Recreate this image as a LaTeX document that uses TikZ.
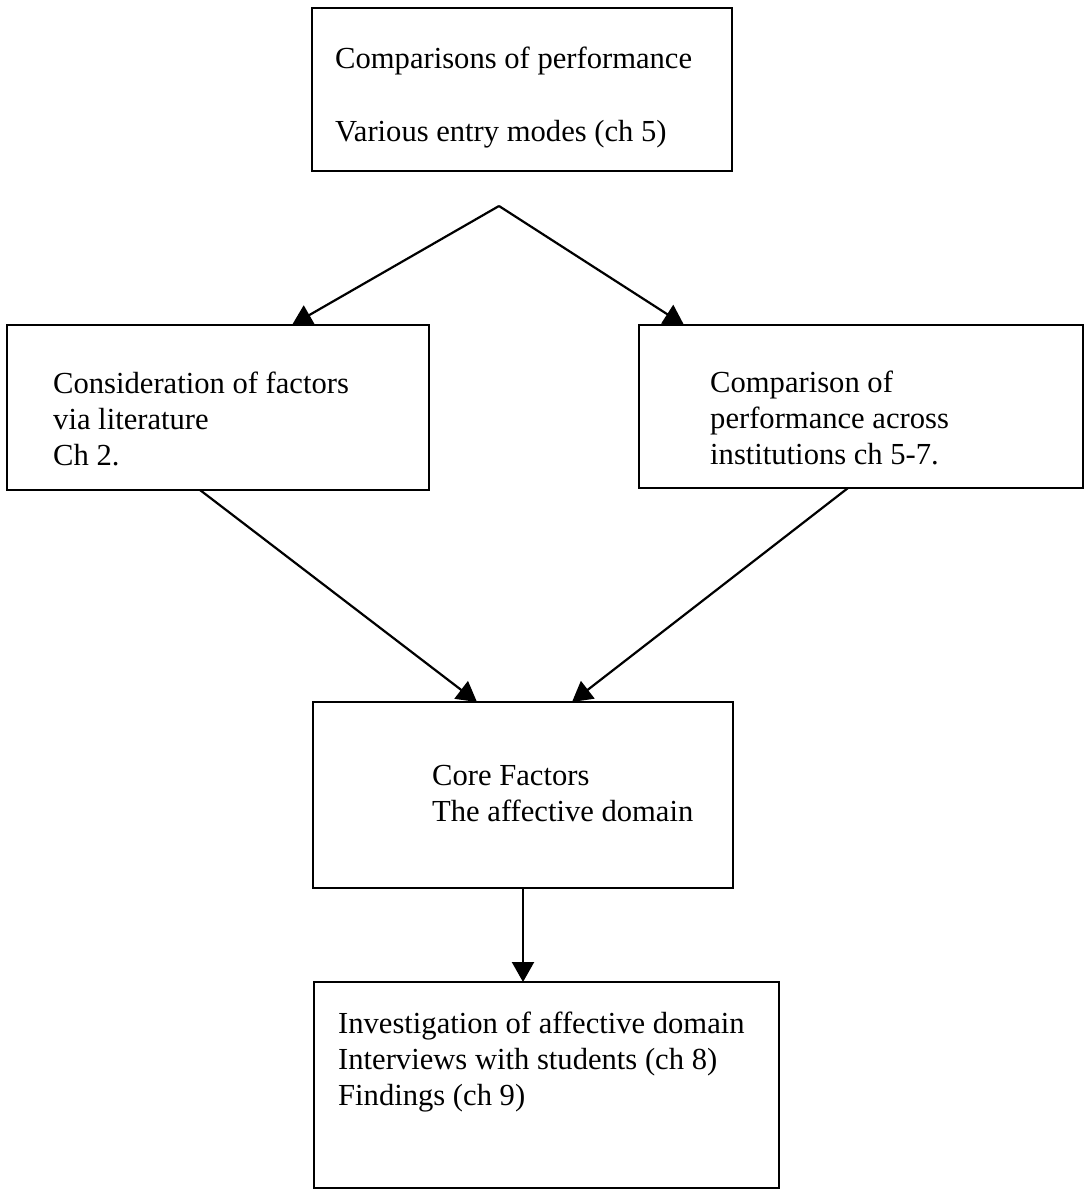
\documentclass[tikz,border=0pt]{standalone}
\usepackage{fontspec}
\setmainfont{Liberation Serif}
\usetikzlibrary{arrows.meta,positioning,calc}
\tikzstyle{edge} =[-{Triangle[length=20pt,width=22pt]}, line width=2.2pt]

\begin{document}
\begin{tikzpicture}[x=1pt, y=-1pt,
    box/.style = {draw, rectangle, line width=2.2pt, inner sep=0pt, outer sep=0pt},
    txt/.style = {align=left, anchor=base west, inner sep=0pt,
        font=\fontsize{30.6pt}{36pt}\selectfont}]
    \useasboundingbox (0,0) rectangle (1085,1196);
    % boxes
    \node (modes) [box, minimum width=420pt, minimum height=163pt] at (522,89.5) {};
    \node (lit) [box, minimum width=422pt, minimum height=165pt] at (218,407.5) {};
    \node (inst) [box, minimum width=444pt, minimum height=163pt] at (861,406.5) {};
    \node (core) [box, minimum width=420pt, minimum height=186pt] at (523,795) {};
    \node (find) [box, minimum width=465pt, minimum height=206pt] at (546.5,1085) {};
    % texts (anchored at the last line)
    \node (modesT) [txt] at (335,142) {Comparisons of performance\\[37pt]Various entry modes (ch 5)};
    \node (litT) [txt] at (53,465) {Consideration of factors\\via literature\\Ch 2.};
    \node (instT) [txt] at (710,464) {Comparison of\\performance across\\institutions ch 5-7.};
    \node (coreT) [txt] at (432,821) {Core Factors\\The affective domain};
    \node (findT) [txt] at (338,1105) {Investigation of affective domain\\Interviews with students (ch 8)\\Findings (ch 9)};
    % arrows
    \coordinate (apex) at (499,206);
    \draw[edge] (apex) -- (lit.north -| 292,0);
    \draw[edge] (apex) -- (inst.north -| 684,0);
    \draw[edge] (lit.south -| 200,0) -- (core.north -| 477,0);
    \draw[edge] (inst.south -| 848,0) -- (core.north -| 572,0);
    \draw[edge] (core.south) -- (core.south |- find.north);
\end{tikzpicture}
\end{document}
